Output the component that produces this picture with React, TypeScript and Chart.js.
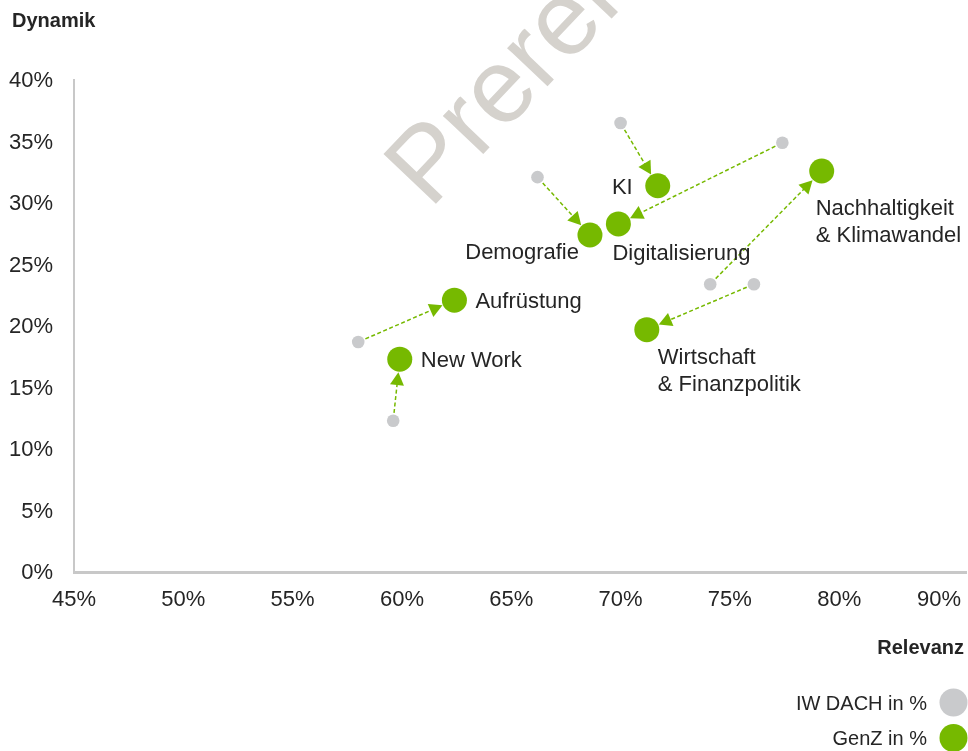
import React, { useEffect, useRef } from "react";
import { Chart, registerables } from "chart.js";

Chart.register(...registerables);

// ---- data ----
const categories = [
  "KI",
  "Digitalisierung",
  "Demografie",
  "Nachhaltigkeit\n& Klimawandel",
  "Wirtschaft\n& Finanzpolitik",
  "Aufrüstung",
  "New Work",
];
const iwRelevanz = [70.0, 77.4, 66.2, 74.1, 76.1, 58.0, 59.6];
const iwDynamik = [36.5, 34.9, 32.1, 23.4, 23.4, 18.7, 12.3];
const genzRelevanz = [71.7, 69.9, 68.6, 79.2, 71.2, 62.4, 59.9];
const genzDynamik = [31.4, 28.3, 27.4, 32.6, 19.7, 22.1, 17.3];
const seriesNames = ["IW DACH in %", "GenZ in %"];
const xTickValues = [45, 50, 55, 60, 65, 70, 75, 80, 85];
const xTickLabels = ["45%", "50%", "55%", "60%", "65%", "70%", "75%", "80%", "90%"];
const yTickValues = [0, 5, 10, 15, 20, 25, 30, 35, 40];
const yTickLabels = ["0%", "5%", "10%", "15%", "20%", "25%", "30%", "35%", "40%"];
const xTitle = "Relevanz";
const yTitle = "Dynamik";
const watermarkText = "Prerelease";

// ---- styles ----
const GREEN = "#76b900";
const GRAY = "#c9cacc";
const AXIS = "#c8c8c8";
const TEXT = "#252525";
const FONT = "'Liberation Sans', Arial, sans-serif";
const GRAY_R = 6.3;
const GREEN_R = 12.5;

// label placement relative to GenZ point (dx, dy to first line cap-centre)
const labelPlacement = [
  { align: "right", dx: -25, dy: 0 },
  { align: "left", dx: -6, dy: 28 },
  { align: "right", dx: -11, dy: 16.5 },
  { align: "left", dx: -6, dy: 36.5 },
  { align: "left", dx: 11, dy: 26 },
  { align: "left", dx: 21, dy: 0 },
  { align: "left", dx: 21, dy: 0 },
];

function drawText(
  ctx: CanvasRenderingContext2D,
  text: string,
  x: number,
  capCenterY: number,
  align: CanvasTextAlign,
  size: number,
  bold = false,
  color = TEXT
) {
  ctx.save();
  ctx.font = `${bold ? "bold " : ""}${size}px ${FONT}`;
  ctx.fillStyle = color;
  ctx.textAlign = align;
  ctx.textBaseline = "alphabetic";
  ctx.fillText(text, x, capCenterY + 0.358 * size);
  ctx.restore();
}

const overlayPlugin = {
  id: "overlay",
  beforeDraw(chart: any) {
    const ctx = chart.ctx as CanvasRenderingContext2D;
    ctx.save();
    ctx.translate(430, 210);
    ctx.rotate((-46.5 * Math.PI) / 180);
    ctx.font = `105px ${FONT}`;
    ctx.fillStyle = "#d5d2cd";
    ctx.textAlign = "left";
    ctx.textBaseline = "alphabetic";
    ctx.fillText(watermarkText, 0, 0);
    ctx.restore();
  },
  beforeDatasetsDraw(chart: any) {
    const ctx = chart.ctx as CanvasRenderingContext2D;
    const xs = chart.scales.x;
    const ys = chart.scales.y;
    for (let i = 0; i < categories.length; i++) {
      const x0 = xs.getPixelForValue(iwRelevanz[i]);
      const y0 = ys.getPixelForValue(iwDynamik[i]);
      const x1 = xs.getPixelForValue(genzRelevanz[i]);
      const y1 = ys.getPixelForValue(genzDynamik[i]);
      const dx = x1 - x0;
      const dy = y1 - y0;
      const len = Math.hypot(dx, dy);
      const ux = dx / len;
      const uy = dy / len;
      const sx = x0 + ux * (GRAY_R + 1.5);
      const sy = y0 + uy * (GRAY_R + 1.5);
      const tx = x1 - ux * (GREEN_R + 0.5);
      const ty = y1 - uy * (GREEN_R + 0.5);
      const L = 13;
      const W = 7;
      const bx = tx - ux * L;
      const by = ty - uy * L;
      ctx.save();
      ctx.strokeStyle = GREEN;
      ctx.lineWidth = 1.5;
      ctx.setLineDash([4, 2.5]);
      ctx.beginPath();
      ctx.moveTo(sx, sy);
      ctx.lineTo(bx + ux * 1, by + uy * 1);
      ctx.stroke();
      ctx.setLineDash([]);
      ctx.fillStyle = GREEN;
      ctx.beginPath();
      ctx.moveTo(tx, ty);
      ctx.lineTo(bx - uy * W, by + ux * W);
      ctx.lineTo(bx + uy * W, by - ux * W);
      ctx.closePath();
      ctx.fill();
      ctx.restore();
    }
  },
  afterDraw(chart: any) {
    const ctx = chart.ctx as CanvasRenderingContext2D;
    const xs = chart.scales.x;
    const ys = chart.scales.y;
    const area = chart.chartArea;

    // x tick labels
    ctx.save();
    ctx.font = `22px ${FONT}`;
    xTickValues.forEach((v, i) => {
      const label = xTickLabels[i];
      const w = ctx.measureText(label).width;
      let cx = xs.getPixelForValue(v);
      if (cx + w / 2 > area.right - 5) cx = area.right - 5 - w / 2;
      drawText(ctx, label, cx, area.bottom + 26.5, "center", 22);
    });
    ctx.restore();

    // y tick labels
    yTickValues.forEach((v, i) => {
      drawText(ctx, yTickLabels[i], area.left - 21, ys.getPixelForValue(v) - 0.5, "right", 22);
    });

    // axis titles
    drawText(ctx, yTitle, 12, 19.5, "left", 20, true);
    drawText(ctx, xTitle, 964, 647, "right", 20, true);

    // point labels
    for (let i = 0; i < categories.length; i++) {
      const px = xs.getPixelForValue(genzRelevanz[i]);
      const py = ys.getPixelForValue(genzDynamik[i]);
      const p = labelPlacement[i];
      const lines = categories[i].split("\n");
      lines.forEach((line, j) => {
        drawText(ctx, line, px + p.dx, py + p.dy + j * 27, p.align as CanvasTextAlign, 22);
      });
    }

    // legend
    const legendColors = [GRAY, GREEN];
    const legendY = [702.5, 738];
    seriesNames.forEach((name, i) => {
      drawText(ctx, name, 927, legendY[i], "right", 20);
      ctx.save();
      ctx.fillStyle = legendColors[i];
      ctx.beginPath();
      ctx.arc(953.5, legendY[i], 14, 0, Math.PI * 2);
      ctx.fill();
      ctx.restore();
    });
  },
};

export default function App() {
  const canvasRef = useRef<HTMLCanvasElement | null>(null);

  useEffect(() => {
    if (!canvasRef.current) return;
    const chart = new Chart(canvasRef.current, {
      type: "scatter",
      data: {
        datasets: [
          {
            label: seriesNames[0],
            data: iwRelevanz.map((x, i) => ({ x, y: iwDynamik[i] })),
            backgroundColor: GRAY,
            borderWidth: 0,
            pointRadius: GRAY_R,
            pointHoverRadius: GRAY_R,
          },
          {
            label: seriesNames[1],
            data: genzRelevanz.map((x, i) => ({ x, y: genzDynamik[i] })),
            backgroundColor: GREEN,
            borderWidth: 0,
            pointRadius: GREEN_R,
            pointHoverRadius: GREEN_R,
          },
        ],
      },
      options: {
        animation: false,
        responsive: false,
        devicePixelRatio: 1,
        layout: { autoPadding: false, padding: { left: 74, right: 2, top: 80, bottom: 179 } },
        plugins: {
          legend: { display: false },
          tooltip: { enabled: false },
        },
        scales: {
          x: {
            type: "linear",
            min: 45,
            max: 85.8,
            grid: { display: false, drawTicks: false },
            ticks: { display: false },
            border: { display: true, color: AXIS, width: 3 },
          },
          y: {
            type: "linear",
            min: 0,
            max: 40,
            grid: { display: false, drawTicks: false },
            ticks: { display: false },
            border: { display: true, color: AXIS, width: 2 },
          },
        },
      },
      plugins: [overlayPlugin],
    });
    return () => chart.destroy();
  }, []);

  return (
    <div style={{ position: "absolute", left: 0, top: 0, width: 968, height: 751, background: "#fff" }}>
      <canvas ref={canvasRef} width={968} height={751} style={{ width: 968, height: 751, display: "block" }} />
    </div>
  );
}
